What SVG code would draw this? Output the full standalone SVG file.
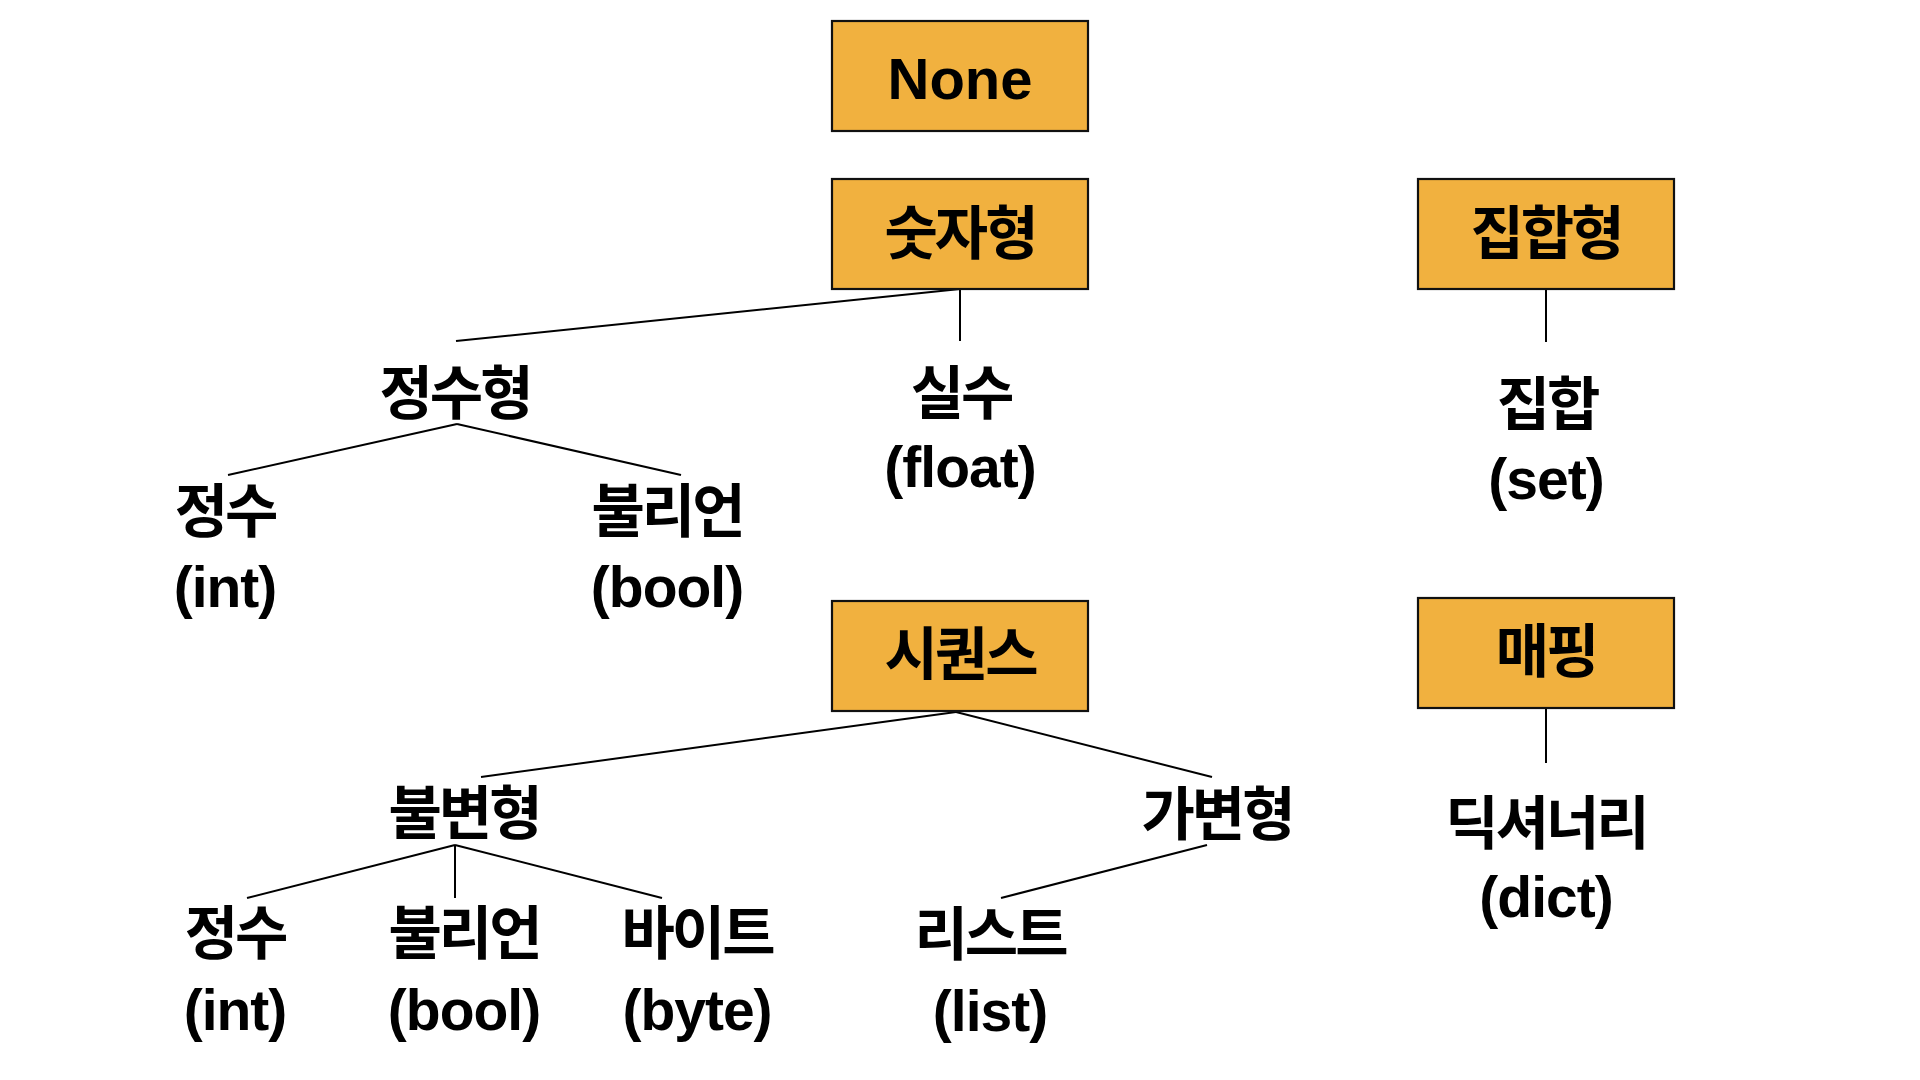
<svg xmlns="http://www.w3.org/2000/svg" width="1920" height="1080" viewBox="0 0 1920 1080">
<style>
.box{fill:#F1B13F;stroke:#111;stroke-width:2.2}
.t{font-family:"Liberation Sans","Noto Sans CJK KR",sans-serif;font-weight:bold;font-size:57px;fill:#000;text-anchor:middle}
.k{font-family:"Noto Sans CJK KR","Liberation Sans",sans-serif;font-weight:bold;font-size:58px;fill:#000;text-anchor:middle;letter-spacing:-3px}
.e{letter-spacing:-1px}
#connectors line{stroke:#000;stroke-width:2}
</style>
<rect width="1920" height="1080" fill="#fff"/>
<g id="connectors">
<line x1="960" y1="289" x2="456" y2="341"/>
<line x1="960" y1="289" x2="960" y2="341"/>
<line x1="457" y1="424" x2="228" y2="475"/>
<line x1="457" y1="424" x2="681" y2="475"/>
<line x1="1546" y1="289" x2="1546" y2="342"/>
<line x1="956" y1="712" x2="481" y2="777"/>
<line x1="956" y1="712" x2="1212" y2="777"/>
<line x1="455" y1="845" x2="247" y2="898"/>
<line x1="455" y1="845" x2="455" y2="898"/>
<line x1="455" y1="845" x2="662" y2="898"/>
<line x1="1207" y1="845" x2="1001" y2="898"/>
<line x1="1546" y1="708" x2="1546" y2="763"/>
</g>
<g id="none"><rect class="box" x="832" y="21" width="256" height="110"/><text class="t" x="960" y="99" style="font-size:58px">None</text></g>
<g id="numeric"><rect class="box" x="832" y="179" width="256" height="110"/><text class="k" x="960" y="254">숫자형</text></g>
<g id="settype"><rect class="box" x="1418" y="179" width="256" height="110"/><text class="k" x="1546" y="254">집합형</text></g>
<g id="sequence"><rect class="box" x="832" y="601" width="256" height="110"/><text class="k" x="960" y="675">시퀀스</text></g>
<g id="mapping"><rect class="box" x="1418" y="598" width="256" height="110"/><text class="k" x="1546" y="672">매핑</text></g>
<g id="integer-type"><text class="k" x="455" y="414">정수형</text></g>
<g id="float"><text class="k" x="961" y="414">실수</text><text class="t e" x="960" y="487">(float)</text></g>
<g id="int1"><text class="k" x="225" y="532">정수</text><text class="t e" x="225" y="607">(int)</text></g>
<g id="bool1"><text class="k" x="667" y="532">불리언</text><text class="t e" x="667" y="607">(bool)</text></g>
<g id="set"><text class="k" x="1547" y="425">집합</text><text class="t e" x="1546" y="499">(set)</text></g>
<g id="dict"><text class="k" x="1546" y="844">딕셔너리</text><text class="t e" x="1546" y="917">(dict)</text></g>
<g id="immutable"><text class="k" x="464" y="834">불변형</text></g>
<g id="mutable"><text class="k" x="1217" y="835">가변형</text></g>
<g id="int2"><text class="k" x="235" y="954">정수</text><text class="t e" x="235" y="1030">(int)</text></g>
<g id="bool2"><text class="k" x="464" y="954">불리언</text><text class="t e" x="464" y="1030">(bool)</text></g>
<g id="byte"><text class="k" x="697" y="954">바이트</text><text class="t e" x="697" y="1030">(byte)</text></g>
<g id="list"><text class="k" x="990" y="955">리스트</text><text class="t e" x="990" y="1031">(list)</text></g>
</svg>
